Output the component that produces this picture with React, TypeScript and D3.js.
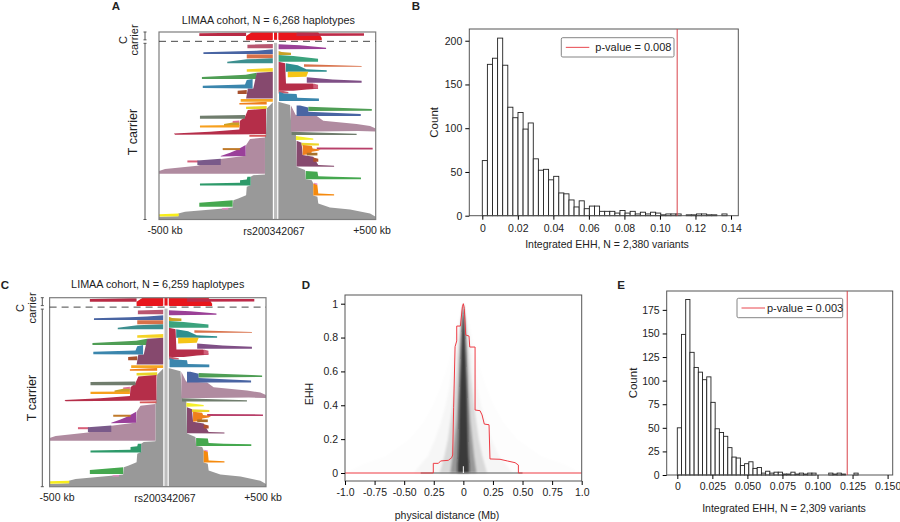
import React, { useEffect, useRef } from "react";
import * as d3 from "d3";

// Haplotype blobs: [position kb, haplotype row 0..562]
type Pt = [number, number];
const cBandL: Pt[] = [[-314, 4], [-126, 2], [-98, 2], [-98, 12], [-314, 12]];
const cBandR: Pt[] = [[135, 1], [235, 4], [446, 4], [446, 11], [135, 12]];
const cBright: Pt[] = [[-98, 25], [-98, 12], [-72, 1], [235, 1], [251, 18], [251, 25]];
const rosePale: Pt[] = [[-92, 38], [28, 36], [28, 49], [-92, 49]];
const purpleR: Pt[] = [[51, 37], [150, 40], [271, 47], [271, 51], [51, 52]];
const blueL: Pt[] = [[-295, 61], [-130, 58], [-49, 56], [28, 52], [28, 66], [-295, 66]];
const goldR: Pt[] = [[51, 57], [66, 60], [109, 62], [109, 69], [51, 69]];
const brickL: Pt[] = [[-95, 67], [28, 67], [28, 79], [-95, 79]];
const greenTealR: Pt[] = [[51, 69], [120, 72], [234, 80], [234, 89], [51, 89]];
const tealL: Pt[] = [[-185, 89], [-95, 82], [28, 79], [28, 94], [-185, 94]];
const crimsonR: Pt[] = [[51, 89], [82, 94], [86, 154], [209, 154], [234, 166], [234, 170], [182, 172], [120, 176], [51, 176]];
const rosePatch: Pt[] = [[212, 154], [234, 158], [234, 169], [212, 169]];
const tealR: Pt[] = [[85, 94], [140, 100], [180, 112], [274, 115], [274, 119], [85, 119]];
const brickR: Pt[] = [[169, 97], [435, 102], [435, 104], [169, 104]];
const goldSun: Pt[] = [[94, 119], [189, 119], [180, 134], [94, 136]];
const purpleDustR: Pt[] = [[182, 136], [300, 142], [435, 146], [435, 152], [182, 152]];
const yellowL: Pt[] = [[-95, 112], [28, 108], [28, 119], [-95, 119]];
const greenL: Pt[] = [[-302, 135], [-100, 128], [-49, 122], [-49, 141], [-302, 141]];
const maroonL: Pt[] = [[-49, 122], [28, 119], [28, 199], [-98, 199], [-90, 169], [-65, 169]];
const blueMidL: Pt[] = [[-298, 161], [-103, 157], [-95, 144], [-68, 141], [-68, 169], [-298, 168]];
const brownL: Pt[] = [[-137, 176], [-95, 174], [-95, 186], [-137, 186]];
const roseSmallR: Pt[] = [[51, 174], [97, 180], [97, 184], [51, 184]];
const blueR: Pt[] = [[54, 179], [77, 184], [135, 186], [138, 197], [238, 199], [238, 207], [54, 207]];
const orangeGoldL: Pt[] = [[-123, 201], [28, 201], [28, 209], [-123, 209]];
const orangeL: Pt[] = [[-129, 213], [-3, 209], [-3, 217], [-129, 217]];
const yellowLowL: Pt[] = [[-98, 224], [-3, 222], [-3, 231], [-98, 231]];
const grayL: Pt[] = [[28, 209], [-3, 229], [-6, 300], [-11, 315], [-11, 427], [-65, 429], [-77, 434], [-77, 459], [-95, 464], [-98, 489], [-134, 499], [-157, 504], [-160, 526], [-203, 529], [-380, 539], [-411, 544], [-411, 552], [-500, 554], [-500, 562], [40, 562]];
const grayR: Pt[] = [[36, 207], [105, 219], [112, 299], [132, 309], [135, 404], [174, 414], [177, 441], [205, 444], [212, 454], [212, 490], [231, 494], [235, 514], [289, 526], [382, 532], [474, 544], [500, 554], [500, 562], [36, 562]];
const crimsonL: Pt[] = [[-6, 230], [-90, 234], [-103, 254], [-126, 266], [-129, 292], [-265, 299], [-431, 304], [-426, 308], [-6, 306]];
const grayGreenL: Pt[] = [[-311, 251], [-103, 249], [-103, 260], [-311, 260]];
const pinkL: Pt[] = [[-160, 267], [-129, 265], [-129, 274], [-160, 274]];
const goldL: Pt[] = [[-200, 276], [-160, 271], [-129, 271], [-129, 282], [-200, 282]];
const orangeLongL: Pt[] = [[-311, 280], [-129, 279], [-129, 286], [-311, 286]];
const redThinL: Pt[] = [[-83, 309], [-6, 308], [-6, 314], [-83, 314]];
const mauveL: Pt[] = [[-500, 417], [-472, 411], [-323, 401], [-215, 381], [-100, 371], [-98, 339], [-80, 321], [-11, 316], [-11, 425], [-500, 425]];
const purpleL: Pt[] = [[-215, 372], [-172, 362], [-142, 354], [-100, 339], [-100, 372], [-215, 373]];
const brownOrangeL: Pt[] = [[-206, 348], [-126, 348], [-126, 354], [-206, 354]];
const roseFarL: Pt[] = [[-369, 385], [-318, 385], [-318, 391], [-369, 391]];
const duskyL: Pt[] = [[-323, 385], [-215, 380], [-215, 399], [-323, 399]];
const greenTealL: Pt[] = [[-311, 454], [-126, 452], [-126, 444], [-95, 442], [-92, 434], [-77, 434], [-77, 460], [-311, 460]];
const greenLowL: Pt[] = [[-314, 512], [-160, 504], [-160, 524], [-314, 524]];
const pinkLowL: Pt[] = [[-209, 528], [-180, 527], [-180, 532], [-209, 532]];
const yellowFarL: Pt[] = [[-500, 546], [-409, 544], [-409, 552], [-500, 553]];
const mauveR: Pt[] = [[109, 220], [131, 249], [228, 252], [258, 266], [412, 276], [474, 282], [500, 289], [500, 298], [420, 297], [109, 299]];
const blueLongR: Pt[] = [[135, 220], [151, 220], [189, 226], [189, 239], [431, 246], [431, 252], [135, 252]];
const greenLongR: Pt[] = [[189, 224], [482, 231], [482, 236], [189, 237]];
const grayGreenR: Pt[] = [[112, 299], [412, 305], [412, 309], [112, 309]];
const yellowR: Pt[] = [[132, 312], [212, 319], [212, 323], [132, 324]];
const goldYellowR: Pt[] = [[158, 332], [238, 334], [238, 340], [158, 340]];
const magentaR: Pt[] = [[228, 346], [486, 347], [486, 352], [228, 352]];
const maroonR: Pt[] = [[135, 326], [158, 332], [163, 369], [212, 374], [235, 399], [308, 401], [308, 404], [135, 403]];
const orangeR: Pt[] = [[163, 339], [205, 342], [209, 349], [246, 352], [235, 356], [205, 359], [202, 366], [163, 369]];
const brownR: Pt[] = [[182, 362], [231, 362], [231, 370], [182, 370]];
const rustR: Pt[] = [[212, 376], [235, 380], [235, 389], [212, 389]];
const greenR: Pt[] = [[177, 417], [231, 419], [235, 432], [305, 434], [432, 436], [432, 441], [177, 441]];
const pinkR: Pt[] = [[215, 452], [231, 454], [231, 459], [215, 459]];
const orangeLowR: Pt[] = [[212, 454], [231, 459], [235, 484], [308, 486], [308, 490], [212, 490]];

const blobs: [Pt[], string][] = [
  [grayR, "#999999"], [grayL, "#999999"],
  [cBandL, "#b92b45"], [cBright, "#e8191f"], [cBandR, "#bd2b48"],
  [rosePale, "#b9566f"], [purpleR, "#9b4197"], [blueL, "#4a65a3"], [goldR, "#c9a227"], [brickL, "#d8714a"],
  [greenTealR, "#3aa37d"], [tealL, "#3d8f8f"], [crimsonR, "#b52d4a"], [rosePatch, "#d0607a"], [tealR, "#2f8f8f"],
  [brickR, "#d8714a"], [goldSun, "#f5c518"], [purpleDustR, "#7f4f86"], [yellowL, "#f5d327"], [greenL, "#4f9e55"],
  [maroonL, "#864a6e"], [blueMidL, "#3a86ad"], [brownL, "#a8512f"], [roseSmallR, "#c85a6a"], [blueR, "#3a86ad"],
  [orangeGoldL, "#f5a623"], [orangeL, "#ef7f1a"], [yellowLowL, "#e8d52a"], [crimsonL, "#b52d4a"], [grayGreenL, "#6f7d6d"],
  [pinkL, "#dd6e9a"], [goldL, "#c9a227"], [orangeLongL, "#f7a01e"], [redThinL, "#d65a5a"], [mauveL, "#b08ba0"],
  [purpleL, "#9a3f9a"], [brownOrangeL, "#c07a2a"], [roseFarL, "#d8607a"], [duskyL, "#7a5a8a"], [greenTealL, "#2f9a6a"],
  [greenLowL, "#45a84f"], [pinkLowL, "#e78ac3"], [yellowFarL, "#f8ee1a"], [mauveR, "#b08ba0"], [blueLongR, "#4a65a3"],
  [greenLongR, "#4f9e55"], [grayGreenR, "#6f7d6d"], [maroonR, "#864a6e"], [yellowR, "#f5f02a"], [goldYellowR, "#ecd52a"],
  [magentaR, "#b8406a"], [orangeR, "#ef7f1a"], [brownR, "#a8702a"], [rustR, "#b0502a"], [greenR, "#45a84f"],
  [pinkR, "#e78ac3"], [orangeLowR, "#f58a0f"],
];
const snpKb = 38;
const snpHalfKb = 10;
const dashRow = 28;
const maxRow = 562;

// Histograms
const countsB = [63, 173, 180, 203, 172, 124, 112, 118, 99, 106, 65, 52, 53, 41, 45, 26, 25, 18, 10, 17, 8, 11, 11, 5, 5, 5, 3, 6, 3, 5, 2, 4, 2, 4, 3, 1, 2, 2, 2, 0, 1, 1, 2, 2, 1, 1, 0, 2];
const binB = 0.00287;
const ticksB = [0, 0.02, 0.04, 0.06, 0.08, 0.1, 0.12, 0.14];
const ticksBLabels = ["0", "0.02", "0.04", "0.06", "0.08", "0.10", "0.12", "0.14"];
const countTicksB = [0, 50, 100, 150, 200];
const countsE = [50, 149, 186, 130, 114, 109, 101, 104, 77, 49, 45, 41, 29, 19, 18, 10, 12, 14, 7, 8, 2, 4, 2, 3, 3, 1, 1, 3, 1, 2, 1, 2, 2, 0, 0, 0, 2, 1, 2, 1, 0, 0, 2, 0, 0, 0, 0, 0, 0];
const binE = 0.003;
const ticksE = [0, 0.025, 0.05, 0.075, 0.1, 0.125, 0.15];
const ticksELabels = ["0", "0.025", "0.050", "0.075", "0.100", "0.125", "0.150"];
const countTicksE = [0, 25, 50, 75, 100, 125, 150, 175];

// EHH panel: [Mb, EHH]
const redEHH: [number, number][] = [[-1, 0], [-0.254, 0], [-0.254, 0.057], [-0.211, 0.057], [-0.192, 0.071], [-0.127, 0.075], [-0.099, 0.09], [-0.09, 0.106], [-0.082, 0.388], [-0.07, 0.746], [-0.056, 0.78], [-0.056, 0.868], [-0.025, 0.868], [-0.008, 0.982], [0, 1], [0.008, 0.972], [0.02, 0.815], [0.048, 0.809], [0.054, 0.744], [0.099, 0.744], [0.099, 0.372], [0.141, 0.368], [0.158, 0.343], [0.177, 0.289], [0.217, 0.285], [0.225, 0.083], [0.31, 0.081], [0.372, 0.071], [0.437, 0.061], [0.465, 0.047], [0.465, 0], [1, 0]];
const ehhLevels = [1, 0.9, 0.8, 0.7, 0.6, 0.5, 0.4, 0.3, 0.2, 0.1, 0.05, 0];
// half-widths (Mb) of the bundle of variant curves at each EHH level, per density shell
const shellCore = [0, 0.009, 0.015, 0.02, 0.025, 0.03, 0.034, 0.037, 0.04, 0.045, 0.05, 0.05];
const shellDense = [0, 0.014, 0.022, 0.03, 0.036, 0.042, 0.05, 0.06, 0.075, 0.09, 0.1, 0.11];
const shellMid = [0, 0.02, 0.035, 0.05, 0.06, 0.075, 0.09, 0.11, 0.13, 0.16, 0.18, 0.2];
const shellFaint = [0, 0.03, 0.06, 0.08, 0.1, 0.12, 0.15, 0.19, 0.24, 0.3, 0.36, 0.42];
const shellTrace = [0, 0.05, 0.08, 0.11, 0.15, 0.2, 0.26, 0.34, 0.46, 0.66, 0.86, 1.0];
const shells: [number[], number][] = [[shellTrace, 0.008], [shellFaint, 0.03], [shellMid, 0.12], [shellDense, 0.3], [shellCore, 0.7]];
const ehhTicksX = [-1, -0.75, -0.5, -0.25, 0, 0.25, 0.5, 0.75, 1];
const ehhLabelsX = ["-1.0", "-0.75", "-0.50", "0.25", "0", "0.25", "0.50", "0.75", "1.0"];
const ehhTicksY = [0, 0.2, 0.4, 0.6, 0.8, 1];

const FONT = "'Liberation Sans', Arial, sans-serif";
const INK = "#222";
const FRAME = "#555";

function txt(g: any, x: number, y: number, s: string, size = 10.5, anchor = "middle", rot = 0, weight = "normal") {
  const t = g.append("text").attr("font-family", FONT).attr("font-size", size).attr("font-weight", weight).attr("fill", INK).attr("text-anchor", anchor).text(s);
  t.attr("transform", `translate(${x},${y})` + (rot ? ` rotate(${rot})` : ""));
}

function haplo(svg: any, f: any) {
  const g = svg.append("g");
  const x = d3.scaleLinear().domain([-500, 500]).range([f.x0, f.x1]);
  const y = d3.scaleLinear().domain([0, maxRow]).range([f.y0, f.y1]);
  const line = d3.line<Pt>().x((d) => x(d[0])).y((d) => y(d[1]));
  const b = g.append("g").attr("filter", "url(#soft)");
  b.selectAll("path.b").data(blobs).join("path").attr("class", "b").attr("d", (d: any) => line(d[0]) + "Z").attr("fill", (d: any) => d[1]);
  const a = snpKb - snpHalfKb, c = snpKb + snpHalfKb;
  g.append("rect").attr("x", x(a)).attr("width", x(c) - x(a)).attr("y", y(dashRow)).attr("height", y(maxRow) - y(dashRow)).attr("fill", "#bdbdbd");
  for (const k of [a, c]) g.append("rect").attr("x", x(k) - 0.6).attr("width", 1.2).attr("y", y(0)).attr("height", y(maxRow) - y(0)).attr("fill", "#fff");
  g.append("rect").attr("x", x(a - 5)).attr("width", x(c + 5) - x(a - 5)).attr("y", y(dashRow) - 1.5).attr("height", 3).attr("fill", "#fff");
  g.append("rect").attr("x", f.x0).attr("y", f.y0).attr("width", f.x1 - f.x0).attr("height", f.y1 - f.y0).attr("fill", "none").attr("stroke", "#7d7d7d").attr("stroke-width", 1.2);
  g.append("line").attr("x1", f.x0).attr("x2", f.x1).attr("y1", y(dashRow)).attr("y2", y(dashRow)).attr("stroke", "#333").attr("stroke-width", 0.9).attr("stroke-dasharray", "7 5");
  const bar = (p: number, q: number) => {
    g.append("line").attr("x1", f.brX).attr("x2", f.brX).attr("y1", p).attr("y2", q).attr("stroke", "#555").attr("stroke-width", 1);
    for (const v of [p, q]) g.append("line").attr("x1", f.brX - 1.5).attr("x2", f.brX + 1.5).attr("y1", v).attr("y2", v).attr("stroke", "#555").attr("stroke-width", 1);
  };
  bar(f.y0, y(dashRow) - 1.5);
  bar(y(dashRow) + 2, f.y1);
  txt(g, f.titleX, f.titleY, f.title, 10.8);
  txt(g, f.cX, f.cY, "C", 11, "middle", -90);
  txt(g, f.carX, f.cY, "carrier", 11, "middle", -90);
  txt(g, f.tX, f.tY, "T carrier", 12.5, "middle", -90);
  txt(g, f.lab[0], f.labelY, "-500 kb", 10.5);
  txt(g, f.lab[1], f.labelY + 1, "rs200342067", 10.5);
  txt(g, f.lab[2], f.labelY, "+500 kb", 10.5);
}

function hist(svg: any, f: any) {
  const g = svg.append("g");
  const x = d3.scaleLinear().domain(f.xDomain).range([f.x0, f.x1]);
  const y = d3.scaleLinear().domain(f.yDomain).range([f.y1, f.y0]);
  g.selectAll("rect.bar").data(f.counts).join("rect").attr("class", "bar")
    .attr("x", (_: number, i: number) => x(i * f.bin)).attr("width", (_: number, i: number) => x((i + 1) * f.bin) - x(i * f.bin))
    .attr("y", (d: number) => y(d)).attr("height", (d: number) => y(0) - y(d))
    .attr("fill", "#fff").attr("stroke", "#222").attr("stroke-width", 0.9);
  g.append("rect").attr("x", f.x0).attr("y", f.y0).attr("width", f.x1 - f.x0).attr("height", f.y1 - f.y0).attr("fill", "none").attr("stroke", FRAME).attr("stroke-width", 1);
  g.append("line").attr("x1", x(f.pval)).attr("x2", x(f.pval)).attr("y1", f.y0).attr("y2", f.y1).attr("stroke", "#d9434a").attr("stroke-width", 1);
  g.append("rect").attr("x", f.lx0).attr("y", f.ly0).attr("width", f.lx1 - f.lx0).attr("height", f.ly1 - f.ly0).attr("rx", 1.5).attr("fill", "#fff").attr("stroke", "#666").attr("stroke-width", 0.8);
  const my = (f.ly0 + f.ly1) / 2;
  g.append("line").attr("x1", f.lx0 + 4.5).attr("x2", f.lx0 + 28).attr("y1", my).attr("y2", my).attr("stroke", "#e8474f").attr("stroke-width", 1);
  txt(g, f.lx0 + f.ltx, my + 3.8, f.legend, 11, "start");
  const xa = g.append("g").attr("transform", `translate(0,${f.y1})`).call(d3.axisBottom(x).tickValues(f.ticks).tickFormat((_: any, i: number) => f.labels[i]).tickSize(4).tickSizeOuter(0));
  xa.select(".domain").remove();
  xa.selectAll("text").attr("font-family", FONT).attr("font-size", f.fs).attr("fill", INK).attr("y", f.tickLabelY - f.y1);
  const ya = g.append("g").attr("transform", `translate(${f.x0},0)`).call(d3.axisLeft(y).tickValues(f.yTicks).tickFormat(d3.format("d") as any).tickSize(4).tickSizeOuter(0));
  ya.select(".domain").remove();
  ya.selectAll("text").attr("font-family", FONT).attr("font-size", f.fs).attr("fill", INK);
  txt(g, f.xlabelX, f.xlabelY, f.xlabel, f.fs);
  txt(g, f.countX, (f.y0 + f.y1) / 2, "Count", f.countFs, "middle", -90);
}

function ehh(svg: any) {
  const g = svg.append("g");
  const x0 = 345, x1 = 581.7, y0 = 295, y1 = 481;
  const x = d3.scaleLinear().domain([-1, 1]).range([x0, x1]);
  const y = d3.scaleLinear().domain([0, 1]).range([473, 303.7]);
  const haze = g.append("g").attr("filter", "url(#haze)");
  for (const [w, op] of shells) {
    const shape = d3.area<number>().y((_, i) => y(ehhLevels[i])).x0((d) => x(-d)).x1((d) => x(d));
    haze.append("path").attr("d", shape(w)).attr("fill", "#111").attr("fill-opacity", op);
  }
  g.append("line").attr("x1", x(-0.36)).attr("x2", x(0.5)).attr("y1", y(0)).attr("y2", y(0)).attr("stroke", "#555").attr("stroke-width", 1);
  g.append("line").attr("x1", x(0)).attr("x2", x(0)).attr("y1", y(0)).attr("y2", y(0.04)).attr("stroke", "#fff").attr("stroke-width", 1);
  const line = d3.line<[number, number]>().x((d) => x(d[0])).y((d) => y(d[1]));
  g.append("path").attr("d", line(redEHH)).attr("fill", "none").attr("stroke", "#ee3a43").attr("stroke-width", 1);
  g.append("rect").attr("x", x0).attr("y", y0).attr("width", x1 - x0).attr("height", y1 - y0).attr("fill", "none").attr("stroke", FRAME).attr("stroke-width", 1);
  const xa = g.append("g").attr("transform", `translate(0,${y1})`).call(d3.axisBottom(x).tickValues(ehhTicksX).tickFormat((_: any, i: number) => ehhLabelsX[i]).tickSize(4).tickSizeOuter(0));
  xa.select(".domain").remove();
  xa.selectAll("text").attr("font-family", FONT).attr("font-size", 10.5).attr("fill", INK).attr("y", 8);
  const ya = g.append("g").attr("transform", `translate(${x0},0)`).call(d3.axisLeft(y).tickValues(ehhTicksY).tickFormat((d: any) => String(d)).tickSize(4).tickSizeOuter(0));
  ya.select(".domain").remove();
  ya.selectAll("text").attr("font-family", FONT).attr("font-size", 10.5).attr("fill", INK);
  txt(g, 313, 394, "EHH", 10.5, "middle", -90);
  txt(g, 447, 518.5, "physical distance (Mb)", 10.5);
}

export default function App() {
  const ref = useRef<SVGSVGElement>(null);
  useEffect(() => {
    const svg = d3.select(ref.current);
    svg.selectAll("*").remove();
    const defs = svg.append("defs");
    defs.append("filter").attr("id", "soft").append("feGaussianBlur").attr("stdDeviation", 0.35);
    defs.append("filter").attr("id", "haze").attr("x", "-20%").attr("width", "140%").append("feGaussianBlur").attr("stdDeviation", 1.2);
    const letters: [string, number, number][] = [["A", 116, 10], ["B", 416, 10], ["C", 5, 289], ["D", 306, 289], ["E", 621, 289]];
    haplo(svg, { x0: 159, x1: 375.7, y0: 32, y1: 219.5, title: "LIMAA cohort, N = 6,268 haplotypes", titleX: 268.3, titleY: 24, brX: 145, cX: 127, carX: 138, cY: 40, tX: 137, tY: 132, labelY: 234, lab: [165, 274, 372] });
    haplo(svg, { x0: 49.6, x1: 266, y0: 297.7, y1: 486.7, title: "LIMAA cohort, N = 6,259 haplotypes", titleX: 157.7, titleY: 288, brX: 42.3, cX: 24, carX: 36, cY: 308, tX: 35.5, tY: 398, labelY: 501, lab: [57, 165, 263] });
    hist(svg, { x0: 469.3, x1: 738.3, y0: 29, y1: 215.7, xDomain: [(469.3 - 482.3) / 1776.5, (738.3 - 482.3) / 1776.5], yDomain: [0, 213.4], counts: countsB, bin: binB, ticks: ticksB, labels: ticksBLabels, yTicks: countTicksB, pval: 0.1097, legend: "p-value = 0.008", lx0: 561.3, lx1: 674, ly0: 37.7, ly1: 57, ltx: 34, xlabel: "Integrated EHH, N = 2,380 variants", xlabelX: 607, xlabelY: 248, tickLabelY: 225, countX: 438, fs: 10.5, countFs: 11.5 });
    hist(svg, { x0: 666.7, x1: 892.7, y0: 291, y1: 475, xDomain: [(666.7 - 677.3) / 1402, (892.7 - 677.3) / 1402], yDomain: [0, 195], counts: countsE, bin: binE, ticks: ticksE, labels: ticksELabels, yTicks: countTicksE, pval: 0.1212, legend: "p-value = 0.003", lx0: 737, lx1: 842.7, ly0: 298.3, ly1: 317.7, ltx: 30, xlabel: "Integrated EHH, N = 2,309 variants", xlabelX: 784, xlabelY: 512, tickLabelY: 483, countX: 637, fs: 10.5, countFs: 11.5 });
    ehh(svg);
    for (const [s, lx, ly] of letters) txt(svg, lx, ly, s, 11.5, "middle", 0, "bold");
  }, []);
  return <svg ref={ref} width={900} height={522} style={{ position: "absolute", left: 0, top: 0, background: "#fff" }} />;
}
